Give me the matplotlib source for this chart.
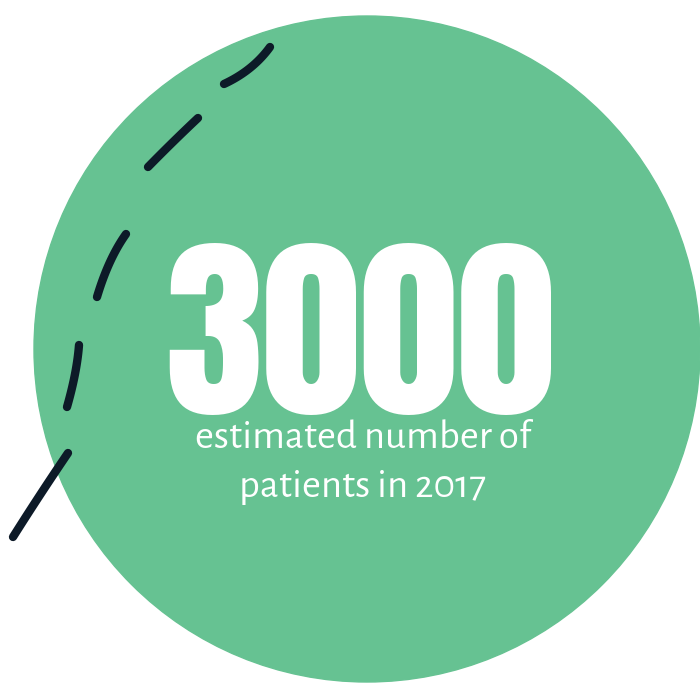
import numpy as np
import matplotlib.pyplot as plt
from matplotlib.patches import Circle

# figure content
value = 3000
caption_lines = ['estimated number of', 'patients in 2017']

green = '#66c292'
navy = '#0d1a28'

# hand-drawn dashed stroke on the left (start, middle, end of each dash), pixel coords
dash_x = [[270, 250, 224], [198, 173, 148], [126, 110, 97], [79, 75, 67], [68, 40, 13]]
dash_y = [[47, 68, 84], [118, 142, 167], [234, 262, 297], [345, 374, 407], [453, 495, 537]]

fig = plt.figure(figsize=(7, 6.85), dpi=100)
ax = fig.add_axes([0, 0, 1, 1])
ax.set_xlim(0, 700)
ax.set_ylim(685, 0)
ax.axis('off')

ax.add_patch(Circle((367, 349), 333, color=green, zorder=1))

# each dash is a quadratic curve passing through its middle point
t = np.linspace(0, 1, 30)[:, None]
for xs, ys in zip(dash_x, dash_y):
    p = np.column_stack([xs, ys]).astype(float)
    ctrl = 2 * p[1] - (p[0] + p[2]) / 2
    curve = (1 - t) ** 2 * p[0] + 2 * (1 - t) * t * ctrl + t ** 2 * p[2]
    ax.plot(curve[:, 0], curve[:, 1], color=navy, lw=6, solid_capstyle='round', zorder=3)

ax.text(360, 413, str(value), color='white', fontsize=142,
        family=['Anton', 'DejaVu Sans'], ha='center', va='baseline', zorder=4)

for i, line in enumerate(caption_lines):
    ax.text(363, 448 + i * 49, line, color='white', fontsize=29.5,
            family=['Alegreya Sans', 'DejaVu Sans'], ha='center', va='baseline', zorder=4)

fig.savefig('out.png', dpi=100, facecolor='white')
